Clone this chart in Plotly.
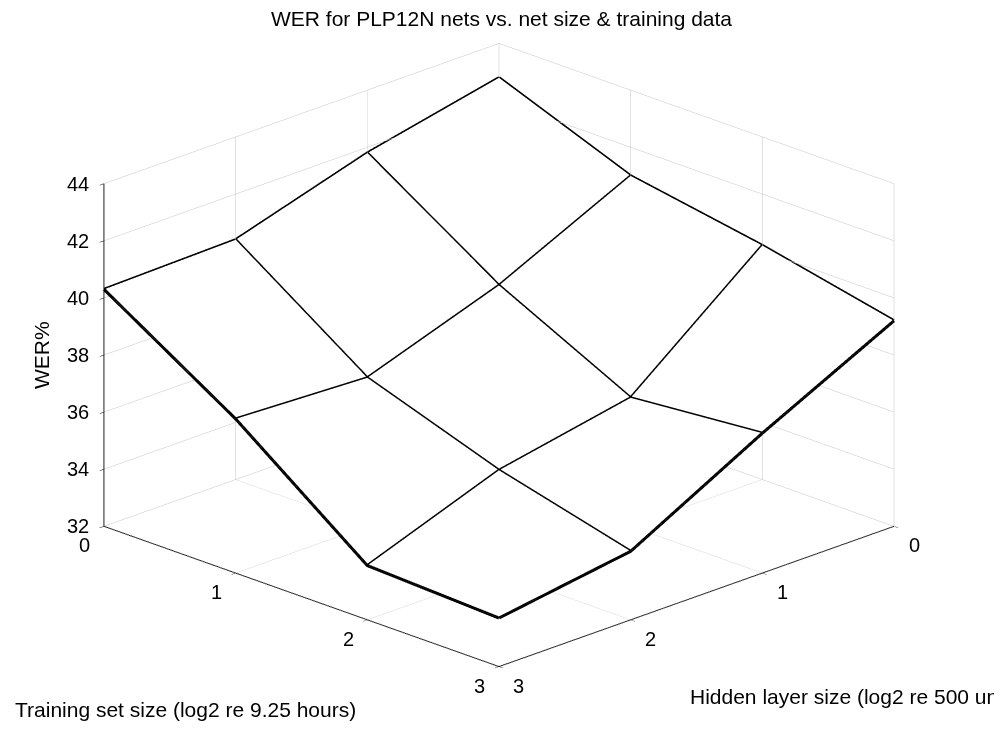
import plotly.graph_objects as go
import numpy as np

# Data
hidden_size = [0, 1, 2, 3]          # log2 re 500 units
training_size = [0, 1, 2, 3]        # log2 re 9.25 hours
# WER% rows: training size 0..3, columns: hidden size 0..3
wer_t0 = [42.8, 41.8, 40.4, 40.3]
wer_t1 = [41.0, 38.8, 37.2, 37.4]
wer_t2 = [40.2, 36.5, 35.6, 33.9]
wer_t3 = [39.2, 36.9, 34.4, 33.7]
wer = [wer_t0, wer_t1, wer_t2, wer_t3]

z_ticks = [32, 34, 36, 38, 40, 42, 44]
xy_ticks = [0, 1, 2, 3]

FONT = "Liberation Sans, Arial, Helvetica, sans-serif"
FS = 21
TICK_FS = 20
W, H = 1002, 733

fig = go.Figure()
# white opaque surface (hides grid behind it)
fig.add_trace(go.Surface(
    x=hidden_size, y=training_size, z=wer,
    colorscale=[[0, "white"], [1, "white"]],
    showscale=False,
    hoverinfo="skip",
    lighting=dict(ambient=1.0, diffuse=0.0, specular=0.0, roughness=1.0, fresnel=0.0),
    contours=dict(x=dict(highlight=False), y=dict(highlight=False), z=dict(highlight=False)),
))

# mesh lines built from the data arrays
lx, ly, lz = [], [], []
for i, t in enumerate(training_size):
    for j, h in enumerate(hidden_size):
        lx.append(h); ly.append(t); lz.append(wer[i][j])
    lx.append(None); ly.append(None); lz.append(None)
for j, h in enumerate(hidden_size):
    for i, t in enumerate(training_size):
        lx.append(h); ly.append(t); lz.append(wer[i][j])
    lx.append(None); ly.append(None); lz.append(None)

fig.add_trace(go.Scatter3d(
    x=lx, y=ly, z=lz, mode="lines",
    line=dict(color="black", width=6),
    hoverinfo="skip", connectgaps=False,
))

axis_common = dict(
    showbackground=False,
    showgrid=True, gridcolor="#c4c4c4", gridwidth=1,
    zeroline=False,
    showline=True, linecolor="black", linewidth=2,
    ticks="outside", tickcolor="black", ticklen=6,
    showticklabels=False,
    showspikes=False,
    title=dict(text=""),
)

# upright tick labels placed at the axes' tick positions
tick_font = dict(family=FONT, size=TICK_FS, color="black")
scene_ann = []
for v in z_ticks:
    scene_ann.append(dict(x=hidden_size[-1], y=training_size[0], z=v, text=str(v), showarrow=False,
                          xanchor="right", yanchor="middle", xshift=-13, font=tick_font))
for v in xy_ticks:
    # training-size axis (front-left edge)
    scene_ann.append(dict(x=hidden_size[-1], y=v, z=z_ticks[0], text=str(v), showarrow=False,
                          xanchor="center", yanchor="middle", xshift=-19, yshift=-19, font=tick_font))
    # hidden-size axis (front-right edge)
    scene_ann.append(dict(x=v, y=training_size[-1], z=z_ticks[0], text=str(v), showarrow=False,
                          xanchor="center", yanchor="middle", xshift=20, yshift=-19, font=tick_font))

r = 2.0
el = np.deg2rad(20.8)
eye = dict(x=float(r*np.cos(el)*np.cos(np.pi/4)), y=float(r*np.cos(el)*np.sin(np.pi/4)), z=float(r*np.sin(el)))
S = 1.61

fig.update_layout(
    width=W, height=H,
    margin=dict(l=0, r=0, t=0, b=0),
    paper_bgcolor="white",
    showlegend=False,
    scene=dict(
        domain=dict(x=[0, 0.98], y=[0.0532, 1.0]),
        xaxis=dict(axis_common, range=[0, 3], tickvals=xy_ticks),
        yaxis=dict(axis_common, range=[0, 3], tickvals=xy_ticks),
        zaxis=dict(axis_common, range=[32, 44], tickvals=z_ticks),
        aspectmode="manual",
        aspectratio=dict(x=S, y=S, z=0.656*S),
        camera=dict(projection=dict(type="orthographic"), eye=eye, up=dict(x=0, y=0, z=1), center=dict(x=0, y=0, z=0)),
        bgcolor="white",
        annotations=scene_ann,
    ),
    annotations=[
        dict(text="WER for PLP12N nets vs. net size & training data", xref="paper", yref="paper",
             x=493/W, y=1 - 10/H, xanchor="center", yanchor="middle", showarrow=False,
             font=dict(family=FONT, size=FS, color="black")),
        dict(text="WER%", xref="paper", yref="paper", x=33/W, y=1 - 347/H, textangle=-90,
             xanchor="center", yanchor="middle", showarrow=False,
             font=dict(family=FONT, size=FS, color="black")),
        dict(text="Training set size (log2 re 9.25 hours)", xref="paper", yref="paper",
             x=5/W, y=1 - 701/H, xanchor="left", yanchor="middle", showarrow=False,
             font=dict(family=FONT, size=FS, color="black")),
        dict(text="Hidden layer size (log2 re 500 units)", xref="paper", yref="paper",
             x=680/W, y=1 - 688/H, xanchor="left", yanchor="middle", showarrow=False,
             font=dict(family=FONT, size=FS, color="black")),
    ],
)

fig.write_html("out.html")
